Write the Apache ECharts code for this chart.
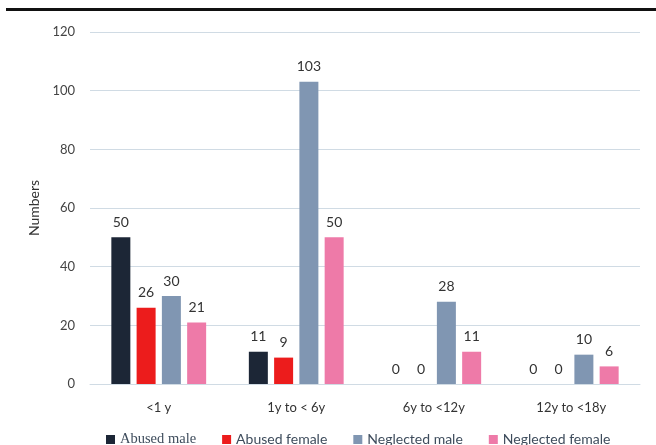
<!DOCTYPE html>
<html>
<head>
<meta charset="utf-8">
<script src="https://cdn.jsdelivr.net/npm/echarts@6/dist/echarts.min.js"></script>
<style>
  html, body { margin: 0; padding: 0; background: #ffffff; }
  #rule { position: absolute; left: 6px; top: 8px; width: 650px; height: 3px; background: #111; }
  #chart { position: absolute; left: 0; top: 0; width: 656px; height: 445px; }
</style>
</head>
<body>
<div id="chart"></div>
<div id="rule"></div>
<script>
// Age groups and counts per group
const categories = ['<1 y', '1y to < 6y', '6y to <12y', '12y to <18y'];
const abusedMale = [50, 11, 0, 0];
const abusedFemale = [26, 9, 0, 0];
const neglectedMale = [30, 103, 28, 10];
const neglectedFemale = [21, 50, 11, 6];
const yTicks = { min: 0, max: 120, interval: 20 };

const seriesDefs = [
  { name: 'Abused male', data: abusedMale, color: '#1c2636' },
  { name: 'Abused female', data: abusedFemale, color: '#ec1c1c' },
  { name: 'Neglected male', data: neglectedMale, color: '#8096b2' },
  { name: 'Neglected female', data: neglectedFemale, color: '#ee7aa8' }
];

const sans = 'Lato';

const chart = echarts.init(document.getElementById('chart'));
chart.setOption({
  backgroundColor: '#ffffff',
  animation: false,
  grid: { left: 90, right: 16, top: 32, bottom: 61 },
  legend: {
    top: 427,
    left: 101,
    itemWidth: 9,
    itemHeight: 9,
    itemGap: 26,
    icon: 'rect',
    textStyle: { color: '#3e4c5c', fontSize: 14, fontFamily: sans },
    data: [
      { name: 'Abused male', textStyle: { fontFamily: 'Liberation Serif', fontSize: 14.5 } },
      { name: 'Abused female' },
      { name: 'Neglected male' },
      { name: 'Neglected female' }
    ]
  },
  xAxis: {
    type: 'category',
    data: categories,
    axisLine: { lineStyle: { color: '#d0dbe4' } },
    axisTick: { show: false },
    axisLabel: { color: '#333', fontSize: 13, margin: 17, fontFamily: sans }
  },
  yAxis: {
    type: 'value',
    min: yTicks.min,
    max: yTicks.max,
    interval: yTicks.interval,
    name: 'Numbers',
    nameLocation: 'middle',
    nameGap: 46,
    nameTextStyle: { color: '#333', fontSize: 14, fontFamily: sans },
    axisLine: { show: false },
    axisTick: { show: false },
    axisLabel: { color: '#444', fontSize: 13, margin: 15, fontFamily: sans },
    splitLine: { lineStyle: { color: '#d0dbe4' } }
  },
  series: seriesDefs.map(s => ({
    name: s.name,
    type: 'bar',
    data: s.data,
    barWidth: 19,
    barGap: '33%',
    barCategoryGap: '30%',
    itemStyle: { color: s.color },
    label: {
      show: true,
      position: 'top',
      distance: 8,
      color: '#333',
      fontSize: 14,
      fontFamily: sans
    }
  }))
});
</script>
</body>
</html>
